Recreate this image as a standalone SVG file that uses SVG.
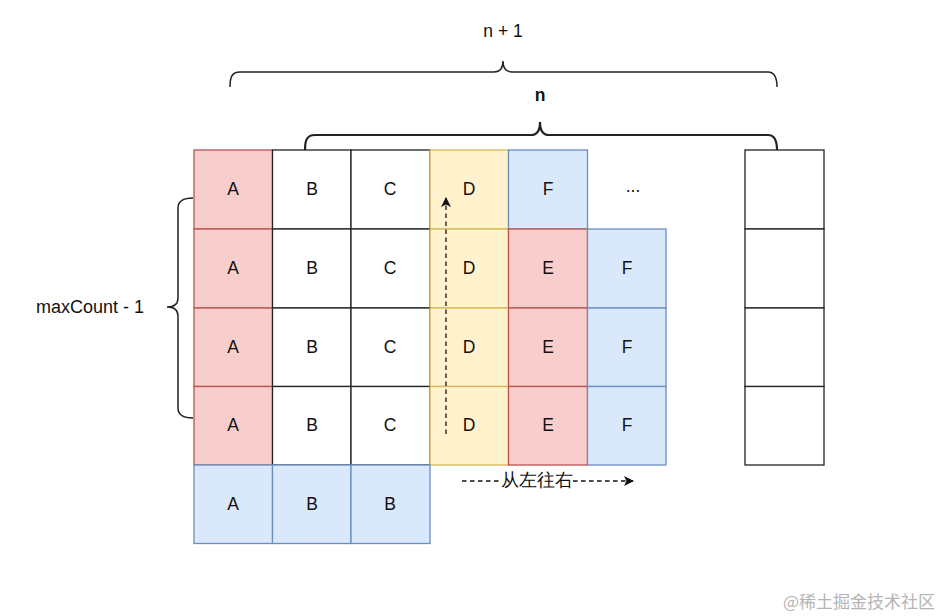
<svg xmlns="http://www.w3.org/2000/svg" width="946" height="616" viewBox="0 0 946 616">
<style>
text{font-family:"Liberation Sans",Arial,Helvetica,sans-serif;font-size:17.5px;fill:#111;text-anchor:middle;dominant-baseline:central}
.w{fill:#fff;stroke:#222;stroke-width:1.3}
.r{fill:#f8cecc;stroke:#b85450;stroke-width:1.3}
.y{fill:#fff2cc;stroke:#d6b656;stroke-width:1.3}
.b{fill:#dae8fc;stroke:#6c8ebf;stroke-width:1.3}
.br{fill:none;stroke:#222;stroke-width:1.5}
.dash{fill:none;stroke:#111;stroke-width:1.3;stroke-dasharray:4.5 3.5}
</style>
<defs>
<marker id="ah" viewBox="0 0 10 10" refX="9" refY="5" markerWidth="10" markerHeight="10" markerUnits="userSpaceOnUse" orient="auto">
<path d="M0,0 L10,5 L0,10 L2.5,5 Z" fill="#111"/>
</marker>
</defs>
<rect width="946" height="616" fill="#fff"/>

<!-- braces -->
<g id="brace-n1">
<path class="br" d="M230,87 C230,77 232,72 240,72 L494,72 C500,72 503,68 503,61 C503,68 506,72 512,72 L768,72 C774,72 777,77 777,87"/>
<text x="503" y="31">n + 1</text>
</g>
<g id="brace-n">
<path class="br" style="stroke-width:2.2" d="M305,150 C305,140 307,135 315,135 L531,135 C537,135 540,131 540,122 C540,131 543,135 549,135 L768,135 C774,135 777,140 777,150"/>
<text x="540" y="95" style="font-weight:bold">n</text>
</g>
<g id="brace-max">
<path class="br" d="M193,198 C183,198 178,201 178,208 L178,298 C178,304 175,307 167,307 C175,307 178,310 178,316 L178,408 C178,415 183,418 193,418"/>
<text x="90" y="307" style="font-size:18px">maxCount - 1</text>
</g>

<!-- row 1 -->
<g id="r1a"><rect class="r" x="194" y="150" width="78.5" height="79"/><text x="233" y="189">A</text></g>
<g id="r1b"><rect class="w" x="272.5" y="150" width="78.5" height="79"/><text x="312" y="189">B</text></g>
<g id="r1c"><rect class="w" x="351" y="150" width="79" height="79"/><text x="390" y="189">C</text></g>
<g id="r1d"><rect class="y" x="430" y="150" width="78.5" height="79"/><text x="469" y="189">D</text></g>
<g id="r1f"><rect class="b" x="508.5" y="150" width="79" height="79"/><text x="548" y="189">F</text></g>
<g id="r1dots"><text x="633" y="186">...</text></g>

<!-- row 2 -->
<g id="r2a"><rect class="r" x="194" y="229" width="78.5" height="79"/><text x="233" y="268">A</text></g>
<g id="r2b"><rect class="w" x="272.5" y="229" width="78.5" height="79"/><text x="312" y="268">B</text></g>
<g id="r2c"><rect class="w" x="351" y="229" width="79" height="79"/><text x="390" y="268">C</text></g>
<g id="r2d"><rect class="y" x="430" y="229" width="78.5" height="79"/><text x="469" y="268">D</text></g>
<g id="r2e"><rect class="r" x="508.5" y="229" width="79" height="79"/><text x="548" y="268">E</text></g>
<g id="r2f"><rect class="b" x="587.5" y="229" width="78.5" height="79"/><text x="627" y="268">F</text></g>

<!-- row 3 -->
<g id="r3a"><rect class="r" x="194" y="308" width="78.5" height="78.5"/><text x="233" y="347">A</text></g>
<g id="r3b"><rect class="w" x="272.5" y="308" width="78.5" height="78.5"/><text x="312" y="347">B</text></g>
<g id="r3c"><rect class="w" x="351" y="308" width="79" height="78.5"/><text x="390" y="347">C</text></g>
<g id="r3d"><rect class="y" x="430" y="308" width="78.5" height="78.5"/><text x="469" y="347">D</text></g>
<g id="r3e"><rect class="r" x="508.5" y="308" width="79" height="78.5"/><text x="548" y="347">E</text></g>
<g id="r3f"><rect class="b" x="587.5" y="308" width="78.5" height="78.5"/><text x="627" y="347">F</text></g>

<!-- row 4 -->
<g id="r4a"><rect class="r" x="194" y="386.5" width="78.5" height="78.5"/><text x="233" y="425">A</text></g>
<g id="r4b"><rect class="w" x="272.5" y="386.5" width="78.5" height="78.5"/><text x="312" y="425">B</text></g>
<g id="r4c"><rect class="w" x="351" y="386.5" width="79" height="78.5"/><text x="390" y="425">C</text></g>
<g id="r4d"><rect class="y" x="430" y="386.5" width="78.5" height="78.5"/><text x="469" y="425">D</text></g>
<g id="r4e"><rect class="r" x="508.5" y="386.5" width="79" height="78.5"/><text x="548" y="425">E</text></g>
<g id="r4f"><rect class="b" x="587.5" y="386.5" width="78.5" height="78.5"/><text x="627" y="425">F</text></g>

<!-- row 5 -->
<g id="r5a"><rect class="b" x="194" y="465" width="78.5" height="78.5"/><text x="233" y="504">A</text></g>
<g id="r5b"><rect class="b" x="272.5" y="465" width="78.5" height="78.5"/><text x="312" y="504">B</text></g>
<g id="r5c"><rect class="b" x="351" y="465" width="79" height="78.5"/><text x="390" y="504">B</text></g>

<!-- right column -->
<g id="x1"><rect class="w" x="745" y="150" width="79" height="79"/></g>
<g id="x2"><rect class="w" x="745" y="229" width="79" height="79"/></g>
<g id="x3"><rect class="w" x="745" y="308" width="79" height="78.5"/></g>
<g id="x4"><rect class="w" x="745" y="386.5" width="79" height="78.5"/></g>

<!-- connectors -->
<g id="connectors">
<path class="dash" d="M446,434 L446,198" marker-end="url(#ah)"/>
<path class="dash" d="M462,481 L500,481"/>
<path class="dash" d="M573,481 L633,481" marker-end="url(#ah)"/>
<text x="537" y="480">从左往右</text>
</g>

<text x="859" y="600" style="fill:#b4b4b4;font-size:17px;font-family:'Noto Sans CJK SC','Liberation Sans',sans-serif">@稀土掘金技术社区</text>
</svg>
